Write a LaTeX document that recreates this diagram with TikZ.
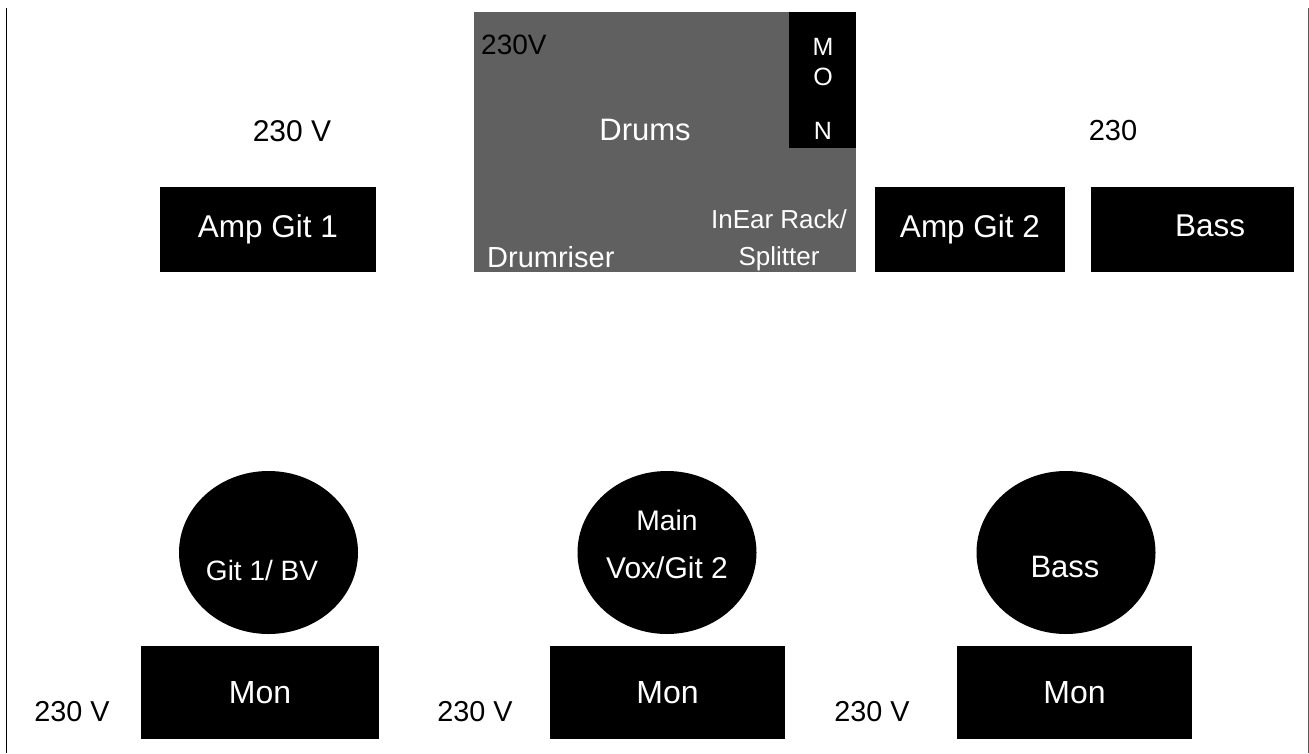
\documentclass[tikz,border=0pt]{standalone}
\usepackage{fontspec}
\setmainfont{Liberation Sans}
\usetikzlibrary{shapes.geometric}
\definecolor{riser}{RGB}{96,96,96}
\definecolor{edge}{RGB}{90,90,90}
\newcommand{\fs}[1]{\fontsize{#1}{#1}\selectfont}
\tikzset{
  box/.style={fill=black, draw=none, inner sep=0pt, text=white},
  spk/.style={ellipse, fill=black, draw=none, inner sep=0pt, minimum width=179pt, minimum height=163pt},
  wtext/.style={text=white, inner sep=0pt, anchor=center},
  btext/.style={text=black, inner sep=0pt, anchor=center},
}
\begin{document}
\begin{tikzpicture}[x=1pt,y=-1pt]
\useasboundingbox (0,0) rectangle (1309,753);
% side lines
\draw[line width=1.6pt, black] (6.5,8) -- (6.5,753);
\draw[line width=1.6pt, edge] (1308.3,8) -- (1308.3,753);
% drum riser
\node[fill=riser, inner sep=0pt, minimum width=382pt, minimum height=260pt] (riser) at (665,142) {};
\node[box, minimum width=67pt, minimum height=136pt] (mon) at (822.5,80) {};
\node[wtext] at (823,47) {\fs{25}M};
\node[wtext] at (823,77) {\fs{25}O};
\node[wtext] at (823,131) {\fs{25}N};
\node[btext, anchor=west] at (481,45) {\fs{28}230V};
\node[wtext] at (645,130) {\fs{31}Drums};
\node[wtext, anchor=west] at (487,257) {\fs{29}Drumriser};
\node[wtext, align=center, font=\fontsize{26}{37}\selectfont] at (779,240) {InEar Rack/\\Splitter};
% amps
\node[box, minimum width=216pt, minimum height=85pt] (amp1) at (268,229.5) {\fs{31.5}Amp Git 1};
\node[box, minimum width=190pt, minimum height=85pt] (amp2) at (970,229.5) {\fs{31.5}Amp Git 2};
\node[box, minimum width=203pt, minimum height=85pt] (bassamp) at (1192.5,229.5) {};
\node[wtext] at (1210,226) {\fs{31.5}Bass};
\node[btext] at (292,131) {\fs{30}230 V};
\node[btext] at (1113,131) {\fs{29}230};
% monitors / speakers
\node[spk] (s1) at (268.5,552.5) {};
\node[wtext] at (262,570) {\fs{28}Git 1/ BV};
\node[spk] (s2) at (667,552.5) {};
\node[wtext] at (667,520) {\fs{28.3}Main};
\node[wtext] at (667,568) {\fs{30}Vox/Git 2};
\node[spk] (s3) at (1066,552.5) {};
\node[wtext] at (1065,567) {\fs{31}Bass};
\node[box, minimum width=238pt, minimum height=93pt] (mon1) at (260,692.5) {\fs{32}Mon};
\node[box, minimum width=235pt, minimum height=93pt] (mon2) at (667.5,692.5) {\fs{32}Mon};
\node[box, minimum width=235pt, minimum height=93pt] (mon3) at (1074.5,692.5) {\fs{32}Mon};
\node[btext] at (72,712) {\fs{28.8}230 V};
\node[btext] at (475,712) {\fs{28.8}230 V};
\node[btext] at (872,712) {\fs{28.8}230 V};
\end{tikzpicture}
\end{document}
